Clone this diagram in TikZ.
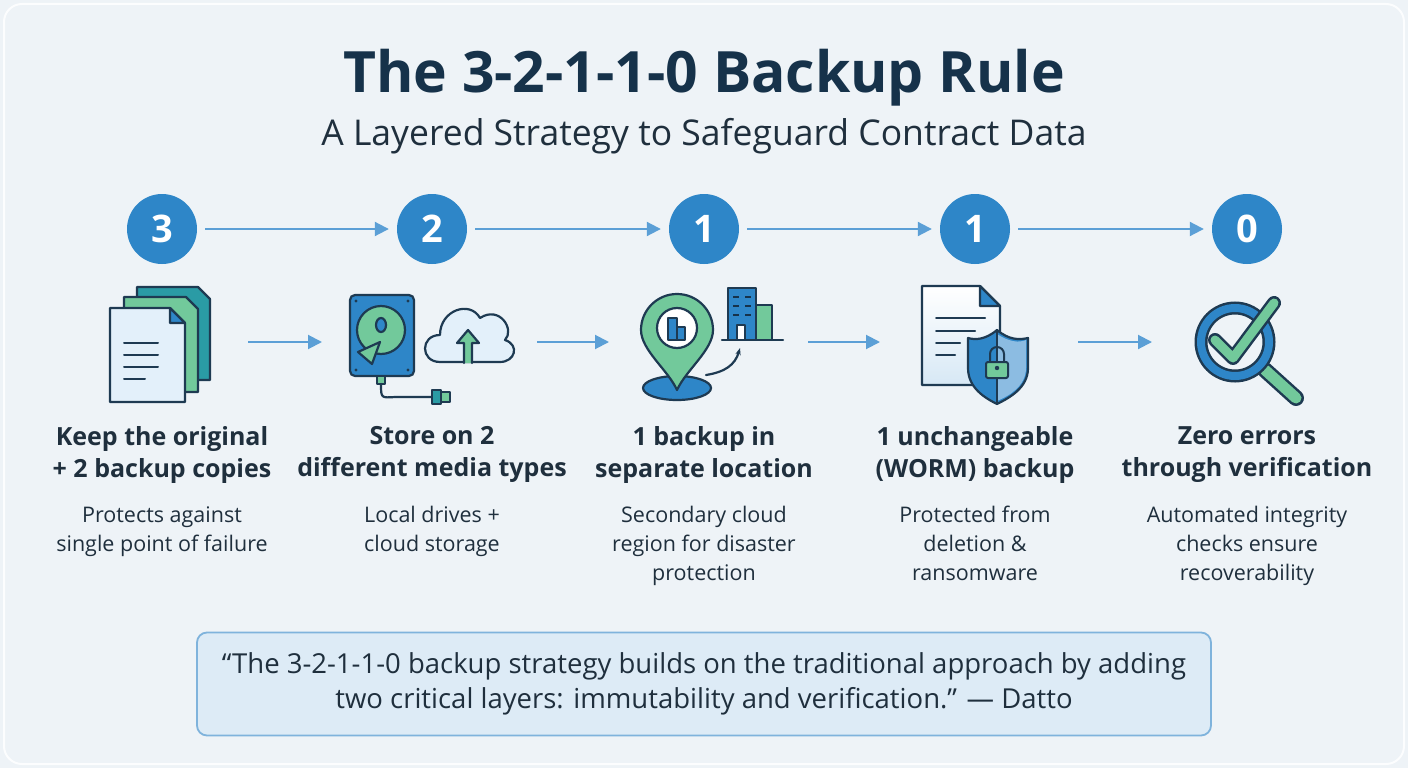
\documentclass[tikz,border=0pt]{standalone}
\usepackage{fontspec}
\setmainfont{Open Sans}
\usetikzlibrary{arrows.meta}
\definecolor{bg}{HTML}{EEF3F7}
\definecolor{navy}{HTML}{16324A}
\definecolor{cblue}{HTML}{2E86C8}
\definecolor{arr}{HTML}{5B9FD6}
\definecolor{grn}{HTML}{72C99B}
\definecolor{teal}{HTML}{2A9BA5}
\definecolor{ol}{HTML}{1E3A52}
\definecolor{pale}{HTML}{E3F0FA}
\definecolor{qbox}{HTML}{DDEBF6}
\definecolor{qline}{HTML}{7FB3DC}
\definecolor{txt}{HTML}{1F2F3D}
\begin{document}
\begin{tikzpicture}[x=1pt,y=-1pt,
 num/.style={circle,fill=cblue,minimum size=70pt,inner sep=0pt,text=white,font=\fontsize{38}{38}\selectfont\bfseries},
 flow/.style={draw=arr,line width=2pt,-{Triangle[length=14pt,width=14pt]}},
 head/.style={align=center,font=\fontsize{25}{32}\selectfont\bfseries,text=txt},
 desc/.style={align=center,font=\fontsize{21.5}{29}\selectfont,text=txt},
 ic/.style={draw=ol,line width=2.2pt,line join=round,line cap=round}]
\fill[bg] (0,0) rectangle (1408,768);
\draw[white!85!bg,line width=2pt,rounded corners=18pt] (4,4) rectangle (1404,764);
\node[text=navy,font=\fontsize{57}{57}\selectfont\bfseries] (title) at (704,78) {The 3-2-1-1-0 Backup Rule};
\node[text=txt,font=\fontsize{35.5}{36}\selectfont] (sub) at (704,136) {A Layered Strategy to Safeguard Contract Data};
% number circles
\foreach \n/\x/\t in {n1/162/3,n2/432/2,n3/704/1,n4/975/1,n5/1247/0}
  \node[num] (\n) at (\x,229) {\t};
\draw[flow] ([xshift=8pt]n1.east) -- ([xshift=-8pt]n2.west);
\draw[flow] ([xshift=8pt]n2.east) -- ([xshift=-8pt]n3.west);
\draw[flow] ([xshift=8pt]n3.east) -- ([xshift=-8pt]n4.west);
\draw[flow] ([xshift=8pt]n4.east) -- ([xshift=-8pt]n5.west);
% lower arrows
\coordinate (a1) at (248,342); \coordinate (b1) at (322,342);
\coordinate (a2) at (537,342); \coordinate (b2) at (609,342);
\coordinate (a3) at (808,342); \coordinate (b3) at (880,342);
\coordinate (a4) at (1078,342); \coordinate (b4) at (1152,342);
\foreach \i in {1,2,3,4} \draw[flow] (a\i) -- (b\i);
% icon 1: documents
\draw[ic,fill=teal] (137,287) -- (198,287) -- (210,299) -- (210,380) -- (137,380) -- cycle;
\draw[ic,fill=grn] (124,297) -- (186,297) -- (198,309) -- (198,392) -- (124,392) -- cycle;
\draw[ic,fill=pale] (110,308) -- (170,308) -- (185,323) -- (185,402) -- (110,402) -- cycle;
\draw[ic,fill=cblue] (170,308) -- (170,323) -- (185,323) -- cycle;
\foreach \y/\w in {343/158,355/158,367/158,379/145} \draw[ic,line width=2pt] (124,\y) -- (\w,\y);
% icon 2: drive + cloud
\draw[ic,fill=cblue,rounded corners=5pt] (350,295) rectangle (414,376);
\draw[ic,fill=grn] (381,330) circle (24);
\draw[ic,fill=cblue] (381,325) ellipse (5 and 7);
\draw[ic,fill=grn] (380,342) -- (372,364) -- (358,352) -- cycle;
\foreach \p in {(356,301),(408,301),(356,370),(408,370)} \fill[ol] \p circle (1.6);
\draw[ic,fill=grn] (377,376) rectangle (385,384);
\draw[ic] (381,384) .. controls (381,398) .. (395,397) -- (432,397);
\draw[ic,fill=teal] (432,390) rectangle (441,404);
\draw[ic,fill=grn] (441,392) rectangle (450,402);
\draw[ic,fill=pale] (440,362) .. controls (420,362) and (420,335) .. (440,335)
  .. controls (440,310) and (470,300) .. (480,318) .. controls (500,305) and (515,330) .. (505,340)
  .. controls (520,345) and (515,362) .. (500,362) -- cycle;
\draw[ic,fill=grn] (464,363) -- (464,343) -- (457,343) -- (468,330) -- (479,343) -- (472,343) -- (472,363);
% icon 3: pin + buildings
\draw[ic,fill=cblue] (677,388) ellipse (34 and 12);
\draw[ic,fill=grn] (677,390) .. controls (668,370) and (641,350) .. (641,330)
  arc[start angle=180,end angle=360,radius=36] .. controls (713,350) and (686,370) .. (677,390) -- cycle;
\draw[ic,fill=white] (677,328) circle (20);
\draw[ic,fill=cblue,line width=1.6pt] (668,318) rectangle (677,340);
\draw[ic,fill=cblue,line width=1.6pt] (677,327) rectangle (685,340);
\draw[ic,fill=cblue] (728,288) rectangle (756,340);
\draw[ic,fill=grn] (756,305) rectangle (772,340);
\draw[ic] (722,340) -- (783,340);
\foreach \y in {297,306,315} {\draw[navy,line width=2pt] (733,\y) -- (739,\y); \draw[navy,line width=2pt] (745,\y) -- (751,\y);}
\draw[ic,fill=white,line width=1.6pt] (737,325) rectangle (745,340);
\draw[ic,-{Stealth[length=7pt]}] (706,375) .. controls (725,372) and (735,365) .. (740,348);
% icon 4: doc + shield
\shade[top color=white,bottom color=pale!60!cblue!40] (922,286) -- (980,286) -- (1000,306) -- (1000,385) -- (922,385) -- cycle;
\draw[ic] (922,286) -- (980,286) -- (1000,306) -- (1000,385) -- (922,385) -- cycle;
\draw[ic,fill=cblue] (980,286) -- (980,306) -- (1000,306) -- cycle;
\foreach \y/\w in {318/985,331/975,343/960,355/955} \draw[ic,line width=2pt] (936,\y) -- (\w,\y);
\draw[ic,fill=cblue] (997,330) .. controls (985,340) and (975,340) .. (968,338) -- (968,368)
  .. controls (968,388) and (985,398) .. (997,404) .. controls (1009,398) and (1028,388) .. (1028,368)
  -- (1028,338) .. controls (1019,340) and (1009,340) .. (997,330) -- cycle;
\fill[arr!70!white] (997,334) .. controls (1009,342) and (1019,343) .. (1026,340) -- (1026,368) .. controls (1026,386) and (1009,396) .. (997,401) -- cycle;
\draw[ic] (997,330) -- (997,404);
\draw[ic,line width=2pt] (990,362) -- (990,354) arc[start angle=180,end angle=360,radius=7] -- (1004,362);
\draw[ic,fill=grn,rounded corners=2pt,line width=2pt] (986,362) rectangle (1008,378);
\fill[ol] (997,368) circle (2.2);
% icon 5: magnifier
\draw[ol,line width=16pt,line cap=round] (1265,370) -- (1296,398);
\draw[grn,line width=11pt,line cap=round] (1265,370) -- (1296,398);
\draw[ol,line width=13pt] (1235,342) circle (34);
\draw[cblue,line width=8pt] (1235,342) circle (34);
\draw[ol,line width=14pt,line join=round,line cap=round] (1215,340) -- (1233,358) -- (1274,303);
\draw[grn,line width=9pt,line join=round,line cap=round] (1215,340) -- (1233,358) -- (1274,303);
% texts
\foreach \i/\x/\h/\d in {1/162/{Keep the original\\+ 2 backup copies}/{Protects against\\single point of failure},
 2/432/{Store on 2\\different media types}/{Local drives +\\cloud storage},
 3/704/{1 backup in\\separate location}/{Secondary cloud\\region for disaster\\protection},
 4/975/{1 unchangeable\\(WORM) backup}/{Protected from\\deletion \&\\ransomware},
 5/1247/{Zero errors\\through verification}/{Automated integrity\\checks ensure\\recoverability}} {
  \node[head,anchor=north] (h\i) at (\x,423) {\h};
  \node[desc,anchor=north] (d\i) at (\x,503) {\d};
}
\node[draw=qline,fill=qbox,line width=1.8pt,rounded corners=10pt,minimum width=1014pt,minimum height=103pt,
  align=center,text=txt,font=\fontsize{27.5}{35}\selectfont] (quote) at (704,684)
  {“The 3-2-1-1-0 backup strategy builds on the traditional approach by adding\\two critical layers: immutability and verification.” — Datto};
\end{tikzpicture}
\end{document}
